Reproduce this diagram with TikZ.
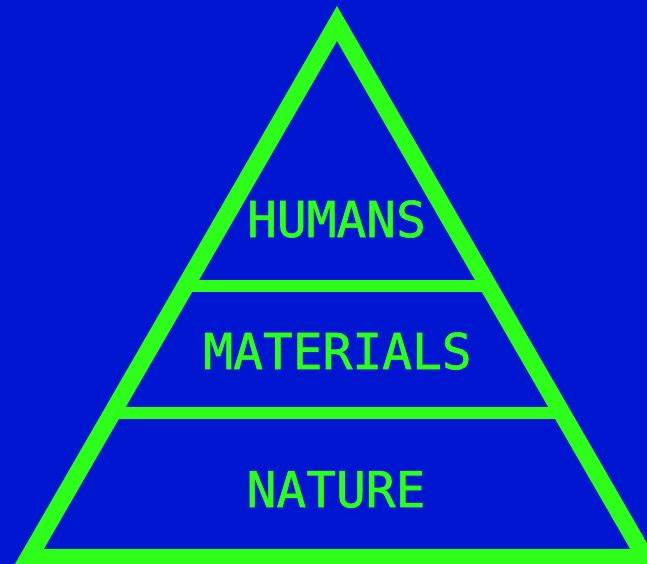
\documentclass[tikz,border=0pt]{standalone}
\usepackage{fontspec}
\newfontfamily\labelfont[FakeBold=1.2]{DejaVu Sans Mono}
\definecolor{bgblue}{RGB}{0,22,208}
\definecolor{lime}{RGB}{46,255,26}
\begin{document}
\begin{tikzpicture}[x=1pt,y=-1pt,
  side/.style={draw=lime,line width=17.5pt,line join=miter,miter limit=10},
  divider/.style={draw=lime,line width=12pt},
  tier/.style={text=lime,inner sep=0pt,font=\labelfont\fontsize{49.5}{49.5}\selectfont}]
\fill[bgblue] (0,0) rectangle (647,564);
\useasboundingbox (0,0) rectangle (647,564);
\clip (0,0) rectangle (647,564);
\coordinate (apex) at (337,23.5);
\coordinate (bl) at (28.8,557.5);
\coordinate (br) at (645.2,557.5);
\coordinate (l1) at (185.4,286);
\coordinate (r1) at (488.6,286);
\coordinate (l2) at (112.1,413);
\coordinate (r2) at (561.9,413);
\draw[divider] (l1) -- (r1);
\draw[divider] (l2) -- (r2);
\draw[side] (apex) -- (bl) -- (br) -- cycle;
\node[tier] (humans) at (336.5,219) {HUMANS};
\node[tier] (materials) at (337.5,351) {MATERIALS};
\node[tier] (nature) at (336,489.5) {NATURE};
\end{tikzpicture}
\end{document}
